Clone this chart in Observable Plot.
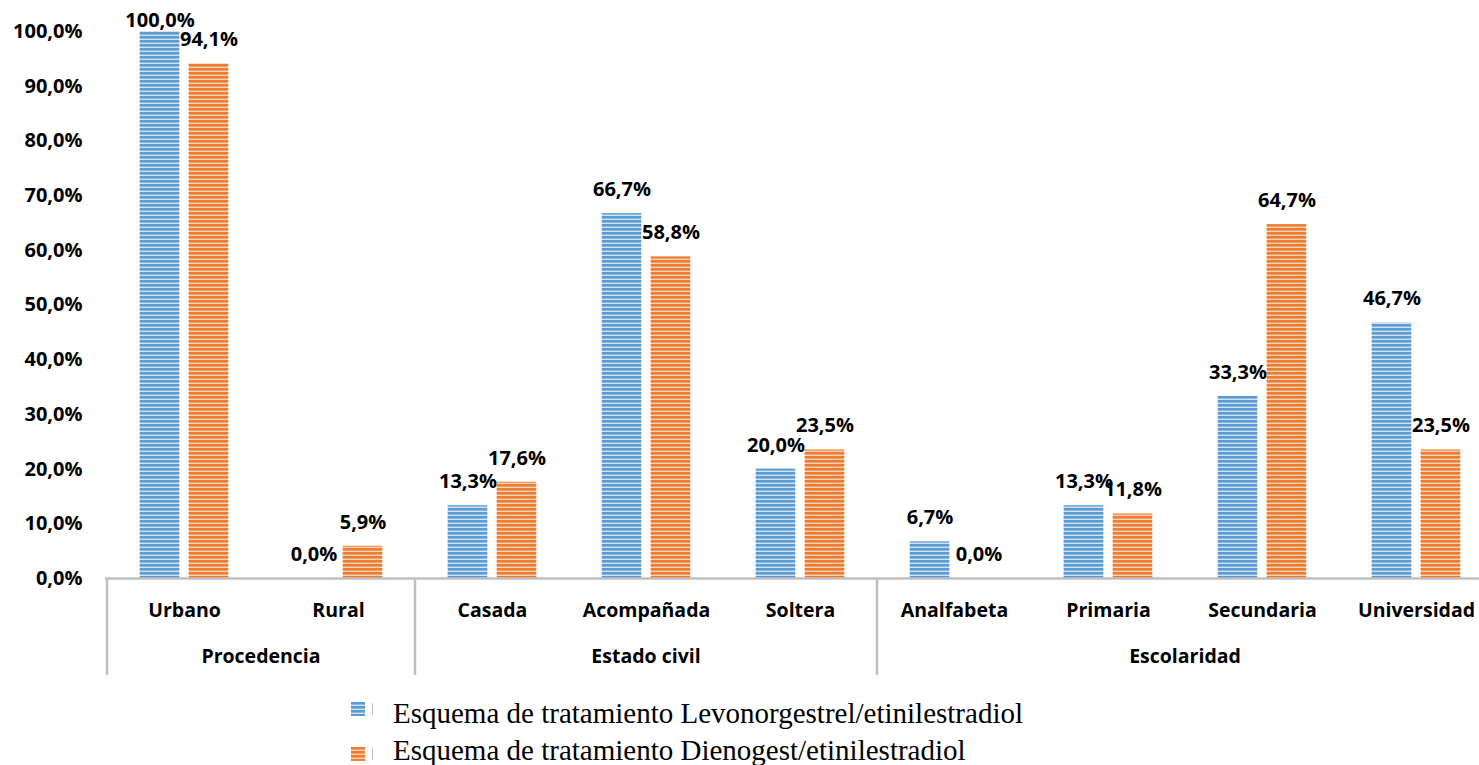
<!DOCTYPE html>
<html>
<head>
<meta charset="utf-8">
<script src="https://cdn.jsdelivr.net/npm/d3@7"></script>
<script src="https://cdn.jsdelivr.net/npm/@observablehq/plot@0.6"></script>
<style>
  html, body { margin: 0; padding: 0; background: #fff; overflow: hidden; }
  #chart svg { display: block; }
  .legend { margin-top: 5px; padding-left: 351px; font-family: "Liberation Serif", "Times New Roman", serif; font-size: 29px; color: #000; }
  .legend .row { display: flex; align-items: center; height: 36.5px; line-height: 36.5px; }
  .legend .sw { width: 14px; height: 14px; display: block; }
  .legend .tick { width: 1px; height: 12px; background: #bfbfbf; margin-left: 7px; margin-right: 20px; }
</style>
</head>
<body>
<svg width="0" height="0" style="position:absolute">
  <defs>
    <pattern id="stripe-blue" patternUnits="userSpaceOnUse" width="8" height="4">
      <rect width="8" height="4" fill="#5B9BD5"></rect>
      <rect y="2.6" width="8" height="1.4" fill="#D2E3F4"></rect>
    </pattern>
    <pattern id="stripe-orange" patternUnits="userSpaceOnUse" width="8" height="4">
      <rect width="8" height="4" fill="#ED7D31"></rect>
      <rect y="2.6" width="8" height="1.4" fill="#F9D3B8"></rect>
    </pattern>
  </defs>
</svg>
<div id="chart"></div>
<div class="legend" id="legend"></div>
<script>
// ---- data ----
const categories = ["Urbano", "Rural", "Casada", "Acompañada", "Soltera", "Analfabeta", "Primaria", "Secundaria", "Universidad"];
const groupNames = ["Procedencia", "Estado civil", "Escolaridad"];
const groupMembers = [["Urbano", "Rural"], ["Casada", "Acompañada", "Soltera"], ["Analfabeta", "Primaria", "Secundaria", "Universidad"]];
const levonorgestrel = [100.0, 0.0, 13.3, 66.7, 20.0, 6.7, 13.3, 33.3, 46.7];
const dienogest = [94.1, 5.9, 17.6, 58.8, 23.5, 0.0, 11.8, 64.7, 23.5];
const seriesNames = ["Esquema de tratamiento Levonorgestrel/etinilestradiol", "Esquema de tratamiento Dienogest/etinilestradiol"];
const seriesFills = ["url(#stripe-blue)", "url(#stripe-orange)"];
const yTicks = [0, 10, 20, 30, 40, 50, 60, 70, 80, 90, 100];

// ---- layout ----
const W = 1479, H = 690, mL = 105, mT = 31, mB = 112;
const xRight = 1494; // plot area continues slightly past the right edge of the picture
const bw = (xRight - mL) / categories.length;
const barW = 40, gap = 9;
const padSide = (bw - (2 * barW + gap)) / 2;
const fmt = v => v.toFixed(1).replace(".", ",") + "%";
const font = "'Open Sans', Lato, sans-serif";

const blue = categories.map((c, i) => ({cat: c, value: levonorgestrel[i]}));
const orange = categories.map((c, i) => ({cat: c, value: dienogest[i]}));
const off = (barW + gap) / 2;

const labelMarks = (data, dx) => [
  Plot.text(data.filter(d => d.value < 100), {x: "cat", y: "value", text: d => fmt(d.value), dx, dy: -24, fontWeight: "bold", fontSize: 20, fill: "#000"}),
  Plot.text(data.filter(d => d.value >= 100), {x: "cat", y: "value", text: d => fmt(d.value), dx, dy: -11, fontWeight: "bold", fontSize: 20, fill: "#000"})
];

const plot = Plot.plot({
  width: W, height: H,
  marginLeft: mL, marginRight: 0, marginTop: mT, marginBottom: mB,
  style: {fontFamily: font, color: "#000", background: "#fff", overflow: "visible"},
  x: {domain: categories, padding: 0, label: null, range: [mL, xRight]},
  y: {domain: [0, 100], label: null},
  marks: [
    Plot.barY(blue, {x: "cat", y: "value", fill: seriesFills[0], insetLeft: padSide, insetRight: bw - padSide - barW}),
    Plot.barY(orange, {x: "cat", y: "value", fill: seriesFills[1], insetLeft: padSide + barW + gap, insetRight: padSide}),
    Plot.ruleY([0], {stroke: "#bfbfbf", strokeWidth: 2.5}),
    ...labelMarks(blue, -off),
    ...labelMarks(orange, off),
    Plot.axisY({ticks: yTicks, tickFormat: fmt, tickSize: 0, tickPadding: 23, fontSize: 20, fontWeight: "bold", fill: "#000"}),
    Plot.axisX({tickSize: 0, tickPadding: 25, fontSize: 19.5, fontWeight: "bold", fill: "#000"})
  ]
});
document.getElementById("chart").appendChild(plot);

// group dividers & group labels via the plot's own scales
const xs = plot.scale("x"), ys = plot.scale("y");
const svg = d3.select(plot);
const y0 = ys.apply(0);
const g = svg.append("g");
const bounds = new Set();
groupMembers.forEach(m => {
  bounds.add(xs.apply(m[0]));
  bounds.add(xs.apply(m[m.length - 1]) + xs.bandwidth);
});
[...bounds].forEach(x => {
  g.append("line").attr("x1", x).attr("x2", x).attr("y1", y0).attr("y2", y0 + 97)
    .attr("stroke", "#bfbfbf").attr("stroke-width", 2.5);
});
groupMembers.forEach((m, i) => {
  const cx = (xs.apply(m[0]) + xs.apply(m[m.length - 1]) + xs.bandwidth) / 2;
  g.append("text").attr("x", cx).attr("y", y0 + 85).attr("text-anchor", "middle")
    .attr("font-family", font).attr("font-size", 19.5).attr("font-weight", "bold").attr("fill", "#000")
    .text(groupNames[i]);
});

// legend
const lg = document.getElementById("legend");
seriesNames.forEach((n, i) => {
  const row = document.createElement("div");
  row.className = "row";
  const shift = i === 0 ? -4 : 4;
  row.innerHTML = `<svg class="sw" width="14" height="14" style="transform:translateY(${shift}px)"><rect width="14" height="14" fill="${seriesFills[i]}"></rect></svg><div class="tick" style="transform:translateY(${shift}px)"></div><span>${n}</span>`;
  lg.appendChild(row);
});
</script>
</body>
</html>
